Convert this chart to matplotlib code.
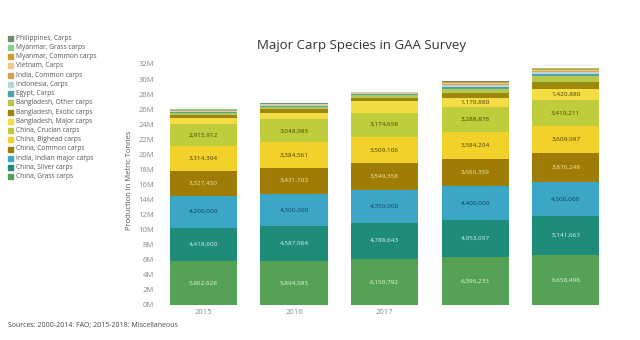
import matplotlib
matplotlib.use("Agg")
import matplotlib.pyplot as plt
import numpy as np

plt.rcParams['font.family'] = ['Open Sans', 'DejaVu Sans']

years = ["2015", "2016", "2017", "2018", "2019"]

# stacking order: bottom -> top
series = [
    "China, Grass carps", "China, Silver carps", "India, Indian major carps",
    "China, Common carps", "China, Bighead carps", "China, Crucian carps",
    "Bangladesh, Major carps", "Bangladesh, Exotic carps", "Bangladesh, Other carps",
    "Egypt, Carps", "Indonesia, Carps", "India, Common carps", "Vietnam, Carps",
    "Myanmar, Common carps", "Myanmar, Grass carps", "Philippines, Carps",
]

grass = [5862628, 5894585, 6150792, 6396233, 6658496]
silver = [4418600, 4587964, 4788643, 4953097, 5141663]
indian_major = [4200000, 4300000, 4350000, 4400000, 4500000]
china_common = [3327450, 3431103, 3549358, 3660359, 3876248]
bighead = [3314304, 3384561, 3509106, 3584204, 3609987]
crucian = [2915912, 3048985, 3174658, 3288876, 3419211]
bd_major = [850000, 900000, 1500000, 1170880, 1420880]
bd_exotic = [400000, 420000, 500000, 700000, 1000000]
bd_other = [250000, 300000, 300000, 500000, 800000]
egypt = [150000, 160000, 160000, 300000, 300000]
indonesia = [120000, 120000, 120000, 250000, 250000]
india_common = [60000, 70000, 80000, 150000, 150000]
vietnam = [40000, 50000, 50000, 120000, 120000]
myanmar_common = [30000, 40000, 40000, 80000, 100000]
myanmar_grass = [30000, 30000, 30000, 80000, 100000]
philippines = [20000, 30000, 30000, 70000, 80000]

values = [grass, silver, indian_major, china_common, bighead, crucian,
          bd_major, bd_exotic, bd_other, egypt, indonesia, india_common,
          vietnam, myanmar_common, myanmar_grass, philippines]

# which series get printed labels (index -> years with labels)
labeled = {0: [0, 1, 2, 3, 4], 1: [0, 1, 2, 3, 4], 2: [0, 1, 2, 3, 4],
           3: [0, 1, 2, 3, 4], 4: [0, 1, 2, 3, 4], 5: [0, 1, 2, 3, 4],
           6: [3, 4]}

colors = ["#55a155", "#1f8c7a", "#3ba7c4", "#9e7c06", "#f3d12b", "#bfcc3b",
          "#f4dc45", "#9c870f", "#b6c84b", "#4fa3a8", "#b7d7dc", "#d8a04f",
          "#f1c98c", "#d29a2c", "#8fcb8c", "#6f8f72"]
text_colors = ["#e8f5e0", "#d8f0ea", "#0f3e66", "#f6e7a8", "#4a3d05", "#3f4a0a",
               "#4a3d05", "#333333", "#333333", "#333333", "#333333", "#333333",
               "#333333", "#333333", "#333333", "#333333"]

fig = plt.figure(figsize=(6.4, 3.4), dpi=100)
ax = fig.add_axes([0.247, 0.103, 0.708, 0.731])

x = np.arange(len(years))
bottom = np.zeros(len(years))
handles = []
for i, (name, vals) in enumerate(zip(series, values)):
    v = np.array(vals, dtype=float) / 1e6
    h = ax.bar(x, v, width=0.74, bottom=bottom, color=colors[i], linewidth=0)
    handles.append(h)
    for j in labeled.get(i, []):
        ax.text(x[j], bottom[j] + v[j] / 2, f"{vals[j]:,}", ha="center",
                va="center", fontsize=4.6, color=text_colors[i])
    bottom += v

ax.set_xlim(-0.5, len(years) - 0.5)
ax.set_ylim(0, 33)
ax.set_yticks(np.arange(0, 33, 2))
ax.set_yticklabels([f"{t}M" for t in range(0, 33, 2)], fontsize=5.5, color="#888888")
ax.set_xticks(x)
ax.set_xticklabels(["2015", "2016", "2017", "", ""], fontsize=5.5, color="#888888")
ax.tick_params(length=0, pad=3)
for s in ax.spines.values():
    s.set_visible(False)
ax.set_ylabel("Production in Metric Tonnes", fontsize=5.5, color="#555555", labelpad=4)

fig.text(0.565, 0.865, "Major Carp Species in GAA Survey", ha="center", va="center",
         fontsize=9.5, color="#333333")

# legend (top -> bottom is reverse of stacking)
y0 = 1 - 38 / 340
dy = 9.25 / 340
for k, i in enumerate(range(len(series) - 1, -1, -1)):
    yy = y0 - k * dy
    fig.patches.append(plt.Rectangle((8 / 640, yy - 2.5 / 340), 5 / 640, 5 / 340,
                                     transform=fig.transFigure, color=colors[i]))
    fig.text(16 / 640, yy, series[i], fontsize=4.8, color="#555555", va="center")

fig.text(8 / 640, 1 - 325 / 340, "Sources: 2000-2014: FAO; 2015-2018: Miscellaneous",
         fontsize=5, color="#444444", va="center")

fig.savefig("out.png", dpi=100)
